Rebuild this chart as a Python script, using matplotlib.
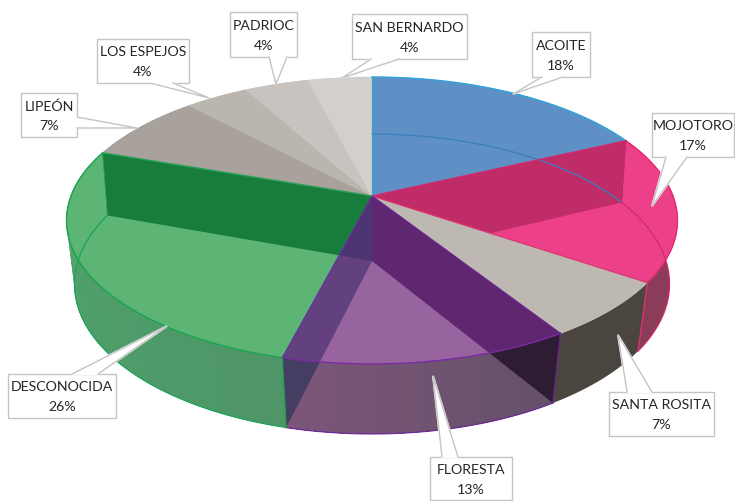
import numpy as np
import matplotlib.pyplot as plt
from matplotlib.colors import to_rgb
from matplotlib.patches import Polygon, Rectangle

# slice sizes as measured on the drawn pie, labels as printed in the callouts
categories = ['ACOITE', 'MOJOTORO', 'SANTA ROSITA', 'FLORESTA', 'DESCONOCIDA',
              'LIPEÓN', 'LOS ESPEJOS', 'PADRIOC', 'SAN BERNARDO']
shares = [18.0, 16.5, 6.5, 13.0, 26.3, 7.7, 4.0, 4.0, 4.0]
printed_pct = ['18%', '17%', '7%', '13%', '26%', '7%', '4%', '4%', '4%']

top_colors = ['#5F90C5', '#EC4189', '#BEB8B2', '#9764A0', '#5DB575',
              '#A9A29C', '#BBB5AF', '#C8C3BE', '#D3CFCC']
side_colors = [('#5F90C5', '#5F90C5'), ('#8A3C58', '#8A3C58'), ('#4B4540', '#4B4540'),
               ('#63506A', '#7D5679'), ('#4F9567', '#4FA86D'),
               ('#A9A29C', '#A9A29C'), ('#BBB5AF', '#BBB5AF'), ('#C8C3BE', '#C8C3BE'), ('#D3CFCC', '#D3CFCC')]
rim_colors = ['#2FA5DC', '#E8286F', None, '#7A2AA0', '#17A550', None, None, None, None]
low_rim_colors = ['#3A7DBB', '#D02A6C', None, '#6F2A96', '#1AA55A', None, None, None, None]

# box (left, top, right, bottom) and pointer (base a, base b, tip) in pixels
callouts = {
    'ACOITE': ((532, 33, 590, 78), (542, 78), (563, 78), (513, 95)),
    'MOJOTORO': ((652, 114, 734, 158), (666, 158), (687, 158), (652, 207)),
    'SANTA ROSITA': ((609, 393, 714, 437), (627, 393), (652, 393), (618, 336)),
    'FLORESTA': ((430, 458, 512, 501), (442, 458), (458, 458), (433, 377)),
    'DESCONOCIDA': ((8, 375, 116, 419), (72, 375), (98, 375), (167, 327)),
    'LIPEÓN': ((21, 94, 77, 138), (77, 118), (77, 129), (137, 129)),
    'LOS ESPEJOS': ((97, 40, 189, 84), (150, 84), (173, 84), (209, 99)),
    'PADRIOC': ((230, 13, 297, 58), (269, 58), (287, 58), (276, 85)),
    'SAN BERNARDO': ((352, 15, 467, 60), (371, 60), (399, 60), (342, 79)),
}


# perspective circle: top and bottom face of the pie
def rim(pos, face):
    cx, cy, a, b, k = face
    ang = 2 * np.pi * np.asarray(pos) / 100
    u, v = np.sin(ang), -np.cos(ang)
    den = 1 + k * v
    return np.column_stack([cx + a * u / den, cy + b * v / den])


top_face = (372, 197, 301, 139.3, -0.1707)
low_face = (372, 262, 294, 146.4, -0.1533)
apex = np.array([top_face[0], top_face[1]])
low_apex = np.array([low_face[0], low_face[1]])

cum = np.concatenate([[0], np.cumsum(shares)])


def arc(i, face, n=80):
    return rim(np.linspace(cum[i], cum[i + 1], n), face)


def wall(i):
    # radial wall at the start of slice i
    return np.array([apex, rim([cum[i]], top_face)[0], rim([cum[i]], low_face)[0], low_apex])


fig = plt.figure(figsize=(7.35, 5.02), dpi=100)
ax = fig.add_axes([0, 0, 1, 1])
ax.set_xlim(0, 735)
ax.set_ylim(502, 0)
ax.axis('off')

# outer side of each slice, strips overlap so no seams show in the gradient
for i in range(len(shares)):
    c0, c1 = np.array(to_rgb(side_colors[i][0])), np.array(to_rgb(side_colors[i][1]))
    n_strips = 40 if side_colors[i][0] != side_colors[i][1] else 1
    steps = np.linspace(cum[i], cum[i + 1], n_strips + 1)
    for j in range(n_strips):
        pos = np.linspace(steps[j], cum[i + 1], 60)
        col = c0 + (c1 - c0) * (j + 0.5) / n_strips
        pts = np.vstack([rim(pos, top_face), rim(pos[::-1], low_face)])
        ax.add_patch(Polygon(pts, facecolor=col, edgecolor='none', zorder=1))

# inner walls seen through the side
ax.add_patch(Polygon(wall(3), facecolor='#2E1C33', edgecolor='none', zorder=2))
ax.add_patch(Polygon(wall(4), facecolor='#463D63', edgecolor='none', zorder=2))

# top faces
tops = []
for i in range(len(shares)):
    pts = np.vstack([[apex], arc(i, top_face)])
    p = Polygon(pts, facecolor=top_colors[i], edgecolor=top_colors[i], lw=0.4, zorder=3)
    ax.add_patch(p)
    tops.append(p)


def seen_through(i, color, clip):
    p = Polygon(wall(i), facecolor=color, edgecolor='none', zorder=4)
    ax.add_patch(p)
    p.set_clip_path(clip)
    return p


seen_through(1, '#BF2C68', tops[1])
seen_through(3, '#5F2770', tops[3])
seen_through(5, '#187C3C', tops[4])
seen_through(4, '#63417F', tops[3])
fd_clip = Polygon(wall(4), facecolor='none', edgecolor='none', zorder=0)
ax.add_patch(fd_clip)
seen_through(5, '#4D3473', fd_clip)

# rims
for i in range(len(shares)):
    if rim_colors[i]:
        xy = arc(i, top_face)
        ax.plot(xy[:, 0], xy[:, 1], color=rim_colors[i], lw=1.0, zorder=5)
    if low_rim_colors[i]:
        xy = arc(i, low_face)
        ax.plot(xy[:, 0], xy[:, 1], color=low_rim_colors[i], lw=0.9, zorder=5)


def edge(i, color, lw=0.9, radial=True, vertical=True):
    w = wall(i)
    if radial:
        ax.plot(w[:2, 0], w[:2, 1], color=color, lw=lw, zorder=5)
    if vertical:
        ax.plot(w[1:3, 0], w[1:3, 1], color=color, lw=lw, zorder=5)


edge(0, '#2FA5DC', vertical=False)
edge(1, '#D0286A', vertical=False)
edge(1, '#B02A62', lw=0.5, radial=False)
edge(2, '#E0306E')
edge(3, '#6A2490')
edge(4, '#17A550', radial=False)
edge(4, '#6A2FA0', lw=0.8, vertical=False)
edge(5, '#22A055', lw=1.0, vertical=False)
edge(5, '#2BA05A', lw=0.5, radial=False)

# callouts
for name, pct in zip(categories, printed_pct):
    (x0, y0, x1, y1), base_a, base_b, tip = callouts[name]
    ax.add_patch(Rectangle((x0, y0), x1 - x0, y1 - y0, facecolor='white',
                           edgecolor='#C4C4C4', lw=1.0, zorder=6))
    ax.add_patch(Polygon([base_a, tip, base_b], facecolor='white', edgecolor='white',
                         lw=1.4, zorder=7))
    ax.plot([base_a[0], tip[0], base_b[0]], [base_a[1], tip[1], base_b[1]],
            color='#C4C4C4', lw=1.0, zorder=8)
    ym = (y0 + y1) / 2
    ax.text((x0 + x1) / 2, ym - 9.5, name, ha='center', va='center', fontsize=10.2,
            family='Lato', color='#262626', zorder=9)
    ax.text((x0 + x1) / 2, ym + 10.5, pct, ha='center', va='center', fontsize=10.2,
            family='Lato', color='#262626', zorder=9)

fig.savefig('out.png', dpi=100, facecolor='white')
plt.close(fig)
